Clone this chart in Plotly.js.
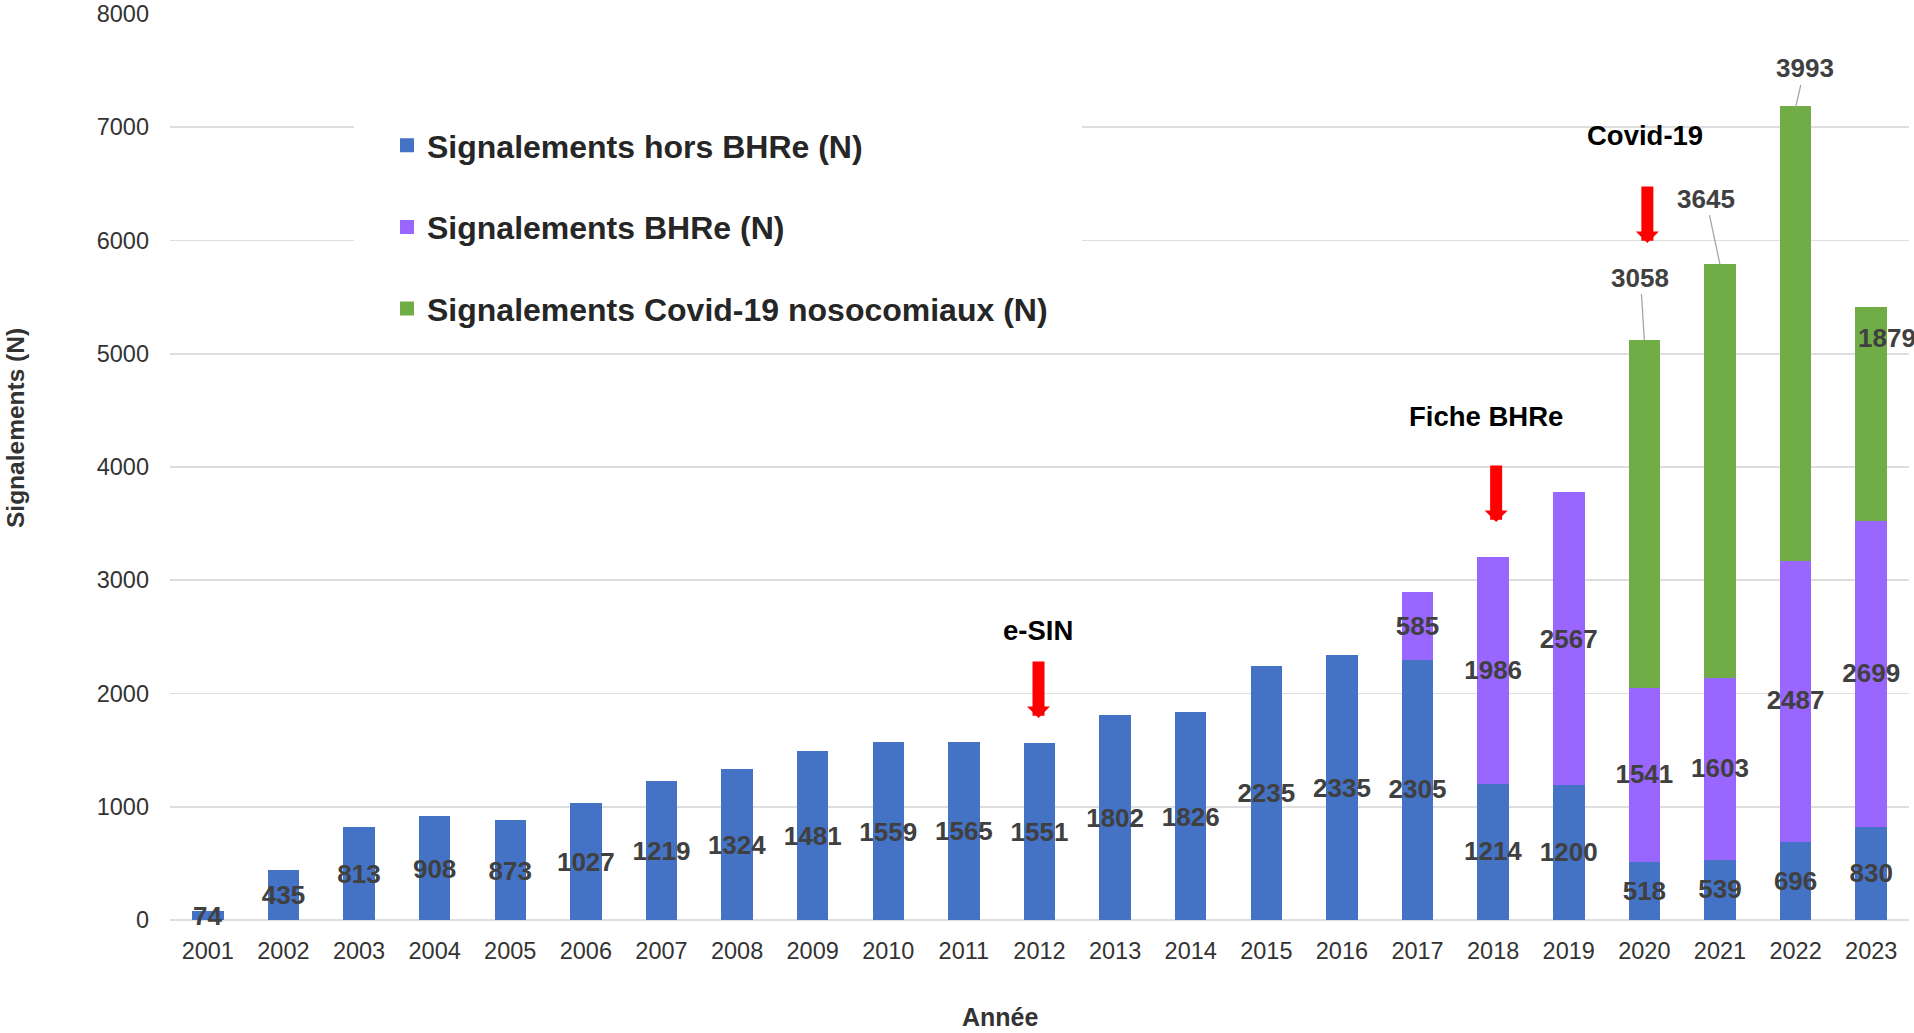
<!DOCTYPE html>
<html>
<head>
<meta charset="utf-8">
<script src="https://cdn.plot.ly/plotly-3.0.1.min.js"></script>
<style>
  html, body { margin: 0; padding: 0; background: #ffffff; }
  #chart { width: 1914px; height: 1033px; }
</style>
</head>
<body>
<div id="chart"></div>
<script>
// ---- Data ----
const years = ["2001","2002","2003","2004","2005","2006","2007","2008","2009","2010","2011","2012",
               "2013","2014","2015","2016","2017","2018","2019","2020","2021","2022","2023"];
const horsBHRe = [74, 435, 813, 908, 873, 1027, 1219, 1324, 1481, 1559, 1565, 1551,
                  1802, 1826, 2235, 2335, 2305, 1214, 1200, 518, 539, 696, 830];
const bhre = [null, null, null, null, null, null, null, null, null, null, null, null,
              null, null, null, null, 585, 1986, 2567, 1541, 1603, 2487, 2699];
const covid = [null, null, null, null, null, null, null, null, null, null, null, null,
               null, null, null, null, null, null, null, 3058, 3645, 3993, 1879];
const seriesNames = ["Signalements hors BHRe (N)", "Signalements BHRe (N)", "Signalements Covid-19 nosocomiaux (N)"];
const eventLabels = ["e-SIN", "Fiche BHRe", "Covid-19"];
const eventYears = ["2012", "2018", "2020"];
const yTitle = "Signalements (N)";
const xTitle = "Année";

// ---- Styles ----
const FONT = "Liberation Sans, Arial, sans-serif";
const colors = ["#4472C4", "#9966FF", "#70AD47"];
const labelFont = {family: FONT, size: 26, color: "#404040", weight: "bold"};

function txt(arr) { return arr.map(v => (v === null || v === undefined) ? "" : String(v)); }
function idx(yr) { return years.indexOf(yr); }

function barTrace(vals, i, withText) {
  return {
    type: "bar",
    x: years,
    y: vals,
    name: seriesNames[i],
    legendgroup: "g" + i,
    marker: {color: colors[i], line: {width: 2, color: colors[i]}},
    text: withText ? txt(vals) : undefined,
    textposition: withText ? "inside" : "none",
    insidetextanchor: "middle",
    textangle: 0,
    constraintext: "none",
    cliponaxis: false,
    textfont: labelFont,
    insidetextfont: labelFont,
    hoverinfo: "x+y+name"
  };
}

const traces = [
  barTrace(horsBHRe, 0, true),
  barTrace(bhre, 1, true),
  barTrace(covid, 2, false)
];

// Totals per year (for covid label placement)
const totals = years.map((_, i) => (horsBHRe[i] || 0) + (bhre[i] || 0) + (covid[i] || 0));

const annotations = [];

// Covid data labels (leader lines for 2020-2022, shifted label for 2023)
const covidOffsets = {"2020": [-4, -63], "2021": [-14, -66], "2022": [9, -39]};
years.forEach((yr, i) => {
  if (covid[i] === null) return;
  const base = {
    x: i, y: totals[i], xref: "x", yref: "y",
    text: String(covid[i]),
    font: labelFont
  };
  if (covidOffsets[yr]) {
    Object.assign(base, {
      showarrow: true, arrowhead: 0, arrowwidth: 1.3, arrowcolor: "#a6a6a6",
      ax: covidOffsets[yr][0], ay: covidOffsets[yr][1], standoff: 0
    });
  } else {
    Object.assign(base, {showarrow: false, xshift: 16, yshift: -30});
  }
  annotations.push(base);
});

// Event labels and red arrows
const eventTip = {"2012": 1784, "2018": 3514, "2020": 5978};   // arrow tip (y units)
const eventShaft = {"2012": 58, "2018": 58, "2020": 58};        // arrow length (px)
const eventLabelY = {"2012": 2557, "2018": 4450, "2020": 6930}; // label centre (y units)
const eventXShift = {"2012": -2, "2018": -7, "2020": 1};
const arrowXShift = {"2012": -1, "2018": 3, "2020": 3};
eventYears.forEach((yr, k) => {
  annotations.push({
    x: idx(yr), y: eventLabelY[yr], xref: "x", yref: "y",
    text: eventLabels[k], showarrow: false, xshift: eventXShift[yr],
    font: {family: FONT, size: 27.5, color: "#000000", weight: "bold"}
  });
  annotations.push({
    x: idx(yr), y: eventTip[yr], xref: "x", yref: "y",
    text: "", showarrow: true, ax: 0, ay: -eventShaft[yr],
    xshift: arrowXShift[yr],
    arrowhead: 1, arrowsize: 0.32, arrowwidth: 12, arrowcolor: "#ff0000", standoff: 0
  });
});

// Axis titles
annotations.push({
  xref: "paper", yref: "paper", x: (15 - 170) / 1739, y: (920 - 428) / 906,
  xanchor: "center", yanchor: "middle",
  text: yTitle, textangle: -90, showarrow: false,
  font: {family: FONT, size: 24.5, color: "#333333", weight: "bold"}
});
annotations.push({
  xref: "paper", yref: "paper", x: (1000 - 170) / 1739, y: (920 - 1017) / 906,
  xanchor: "center", yanchor: "middle",
  text: xTitle, showarrow: false,
  font: {family: FONT, size: 25, color: "#333333", weight: "bold"}
});

// White legend panel (hides gridlines behind the legend, as in the reference)
const shapes = [{
  type: "rect", xref: "paper", yref: "paper", layer: "above",
  x0: (354 - 170) / 1739, x1: (1082 - 170) / 1739,
  y0: (920 - 320) / 906, y1: (920 - 60) / 906,
  fillcolor: "#ffffff", line: {width: 0}
}];

const layout = {
  width: 1914, height: 1033,
  margin: {l: 170, r: 5, t: 14, b: 113, pad: 0},
  paper_bgcolor: "#ffffff", plot_bgcolor: "#ffffff",
  barmode: "stack",
  bargap: 0.61,
  font: {family: FONT, color: "#404040"},
  showlegend: true,
  legend: {
    x: (387 - 170) / 1739, y: (920 - 118) / 906, xanchor: "left", yanchor: "top",
    bgcolor: "rgba(255,255,255,0)", borderwidth: 0,
    traceorder: "grouped", tracegroupgap: 37,
    font: {family: FONT, size: 32, color: "#262626", weight: "bold"},
    itemclick: false, itemdoubleclick: false
  },
  xaxis: {
    type: "category",
    range: [-0.5, years.length - 0.5],
    showgrid: false, showline: false, zeroline: false, ticks: "",
    tickfont: {family: FONT, size: 23.5, color: "#333333"},
    ticklabelstandoff: 14,
    fixedrange: true
  },
  yaxis: {
    range: [0, 8000], dtick: 1000, tick0: 0,
    showgrid: true, gridcolor: "#dedede", gridwidth: 1.6,
    zeroline: true, zerolinecolor: "#dedede", zerolinewidth: 1.6,
    showline: false, ticks: "",
    tickfont: {family: FONT, size: 23.5, color: "#333333"},
    ticklabelstandoff: 20,
    fixedrange: true
  },
  shapes: shapes,
  annotations: annotations
};

Plotly.newPlot("chart", traces, layout, {displayModeBar: false, staticPlot: true});
</script>
</body>
</html>
